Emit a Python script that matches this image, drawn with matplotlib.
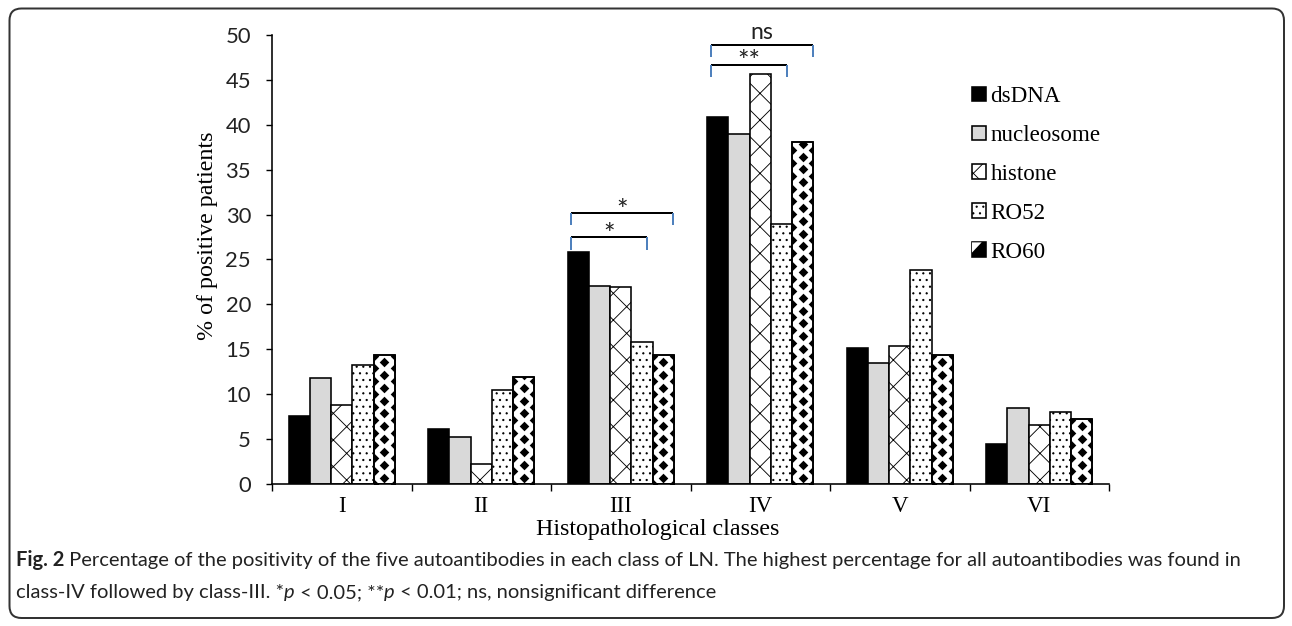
import numpy as np
import matplotlib
matplotlib.use("Agg")
import matplotlib.pyplot as plt
from matplotlib.patches import Patch, Rectangle, Polygon, FancyBboxPatch
from matplotlib.legend_handler import HandlerBase
from matplotlib.transforms import IdentityTransform

# % of positive patients per histopathological class
classes = ["I", "II", "III", "IV", "V", "VI"]
antibodies = ["dsDNA", "nucleosome", "histone", "RO52", "RO60"]
dsdna = [7.6, 6.1, 25.8, 40.9, 15.1, 4.5]
nucleosome = [11.8, 5.2, 22.1, 39.0, 13.5, 8.5]
histone = [8.8, 2.2, 21.9, 45.7, 15.4, 6.6]
ro52 = [13.3, 10.5, 15.8, 29.0, 23.8, 8.0]
ro60 = [14.4, 11.9, 14.4, 38.1, 14.4, 7.2]

# significance brackets: (class index, height, last antibody index, label)
brackets = [(2, 30.2, 4, "*"), (2, 27.5, 3, "*"),
            (3, 48.9, 4, "ns"), (3, 46.7, 3, "**")]

W, H, DPI = 1292, 626, 80
SERIF = "Liberation Serif"
SANS = "Lato"

def px(v):
    # pixel size -> points at this dpi
    return v * 72 / DPI

fig = plt.figure(figsize=(W / DPI, H / DPI), dpi=DPI)
ax = fig.add_axes([272 / W, 142 / H, 837 / W, 449 / H])

x = np.arange(len(classes))
bw = 0.152
offsets = (np.arange(5) - 2) * bw
series = [dsdna, nucleosome, histone, ro52, ro60]
styles = [
    dict(facecolor="black"),
    dict(facecolor="#d9d9d9"),
    dict(facecolor="white", hatch="x"),
    dict(facecolor="white", hatch=".."),
    dict(facecolor="white"),
]
lw = px(1.6)
plt.rcParams["hatch.linewidth"] = 0.8

bars = []
for vals, off, st in zip(series, offsets, styles):
    bars.append(ax.bar(x + off, vals, bw, edgecolor="black", linewidth=lw, zorder=2, **st))

# RO60: black diamond lattice clipped to each bar
period = 1.43
for rect in bars[4]:
    x0, w, h = rect.get_x(), rect.get_width(), rect.get_height()
    yc = np.arange(period / 2, h + period, period)
    ye = np.arange(0, h + period, period)
    xs = np.concatenate([np.full_like(yc, x0 + w / 2), np.full_like(ye, x0), np.full_like(ye, x0 + w)])
    ys = np.concatenate([yc, ye, ye])
    sc = ax.scatter(xs, ys, marker="D", s=px(6.8) ** 2, color="black", linewidths=0, zorder=3)
    sc.set_clip_path(rect)
ax.bar(x + offsets[4], ro60, bw, fill=False, edgecolor="black", linewidth=lw, zorder=4)

ax.set_xlim(-0.5, len(classes) - 0.5)
ax.set_ylim(0, 50)
ax.set_yticks(np.arange(0, 51, 5))
ax.set_xticks(x)
ax.set_xticklabels(classes, family=SERIF, fontsize=px(23))
ax.set_xticks(np.arange(-0.5, len(classes), 1), minor=True)
ax.tick_params(axis="x", which="major", length=0, pad=px(12))
ax.tick_params(axis="x", which="minor", length=px(7), width=px(1.4), direction="out")
ax.tick_params(axis="y", length=px(6), width=px(1.4), pad=px(15), labelsize=px(22))
for lab in ax.get_yticklabels():
    lab.set_family(SANS)
    lab.set_color("#222222")
for side in ("top", "right"):
    ax.spines[side].set_visible(False)
for side in ("left", "bottom"):
    ax.spines[side].set_linewidth(px(1.6))

ax.set_ylabel("% of positive patients", family=SERIF, fontsize=px(24), va="center")
ax.yaxis.set_label_coords((207 - 272) / 837, (484 - 236) / 449)
ax.set_xlabel("Histopathological classes", family=SERIF, fontsize=px(24), va="center")
ax.xaxis.set_label_coords((658 - 272) / 837, (484 - 530) / 449)

# significance brackets
blue = "#4f81bd"
for g, yb, j, label in brackets:
    xl = x[g] + offsets[0] - 0.33 * bw
    xr = x[g] + offsets[j] + (0.47 if j == 4 else 0.25) * bw
    ax.plot([xl, xr], [yb, yb], color="black", lw=px(2), zorder=5, clip_on=False, solid_capstyle="butt")
    for xe in (xl, xr):
        ax.plot([xe, xe], [yb, yb - 1.4], color=blue, lw=px(2), zorder=5, clip_on=False, solid_capstyle="butt")
    if label == "ns":
        ax.text((xl + xr) / 2, yb + 1.4, label, ha="center", va="center",
                family=SANS, fontsize=px(23), color="#222222")
    else:
        ax.text((xl + xr) / 2, yb + 0.2, label, ha="center", va="center",
                family=SANS, fontsize=px(27), color="#222222")

# legend with small pattern swatches
class RO60Handler(HandlerBase):
    def create_artists(self, legend, orig_handle, xd, yd, width, height, fontsize, trans):
        box = Rectangle((-xd, -yd), width, height, facecolor="black", edgecolor="black",
                        linewidth=lw, transform=trans)
        tri = Polygon([(-xd, -yd + height), (-xd + 0.7 * width, -yd + height),
                       (-xd, -yd + 0.3 * height)], closed=True, facecolor="white",
                      edgecolor="none", transform=trans)
        return [box, tri]

handles = [Patch(edgecolor="black", linewidth=lw, **st) for st in styles[:4]]
ro60_handle = Patch(facecolor="white", edgecolor="black")
handles.append(ro60_handle)
leg = ax.legend(handles, antibodies, loc="upper left",
                bbox_to_anchor=(972 / W, 1 - 86 / H), bbox_transform=fig.transFigure,
                frameon=False, borderpad=0, borderaxespad=0,
                handlelength=0.6, handleheight=0.6, handletextpad=0.2, labelspacing=0.78,
                prop=dict(family=SERIF, size=px(23)),
                handler_map={ro60_handle: RO60Handler()})

# caption with mixed styles, sized so the first line fills the frame width
renderer = fig.canvas.get_renderer()
CAP = ["Lato", "DejaVu Sans"]

def put_runs(x_px, y_px, runs, size):
    xp = x_px
    made = []
    for s, kw in runs:
        t = fig.text(xp / W, 1 - y_px / H, s, family=CAP, fontsize=size,
                     va="baseline", ha="left", color="#222222", **kw)
        xp += t.get_window_extent(renderer=renderer).width
        made.append(t)
    return xp - x_px, made

line1 = [
    ("Fig. 2", dict(weight="bold")),
    (" Percentage of the positivity of the five autoantibodies in each class of LN. "
     "The highest percentage for all autoantibodies was found in", {}),
]
line2 = [
    ("class-IV followed by class-III. *", {}),
    ("p", dict(style="italic")),
    (" < 0.05; **", {}),
    ("p", dict(style="italic")),
    (" < 0.01; ns, nonsignificant difference", {}),
]
trial = px(20)
width1, tmp = put_runs(16, 566, line1, trial)
for t in tmp:
    t.remove()
cap_size = trial * (1245 - 16) / width1
put_runs(16, 566, line1, cap_size)
put_runs(16, 598, line2, cap_size)

frame = FancyBboxPatch((9.5, H - 618), 1284 - 9.5, 618 - 8.5,
                       boxstyle="round,pad=0,rounding_size=12",
                       facecolor="none", edgecolor="#333333", linewidth=px(2),
                       transform=IdentityTransform())
fig.add_artist(frame)

fig.savefig("out.png", dpi=DPI)
